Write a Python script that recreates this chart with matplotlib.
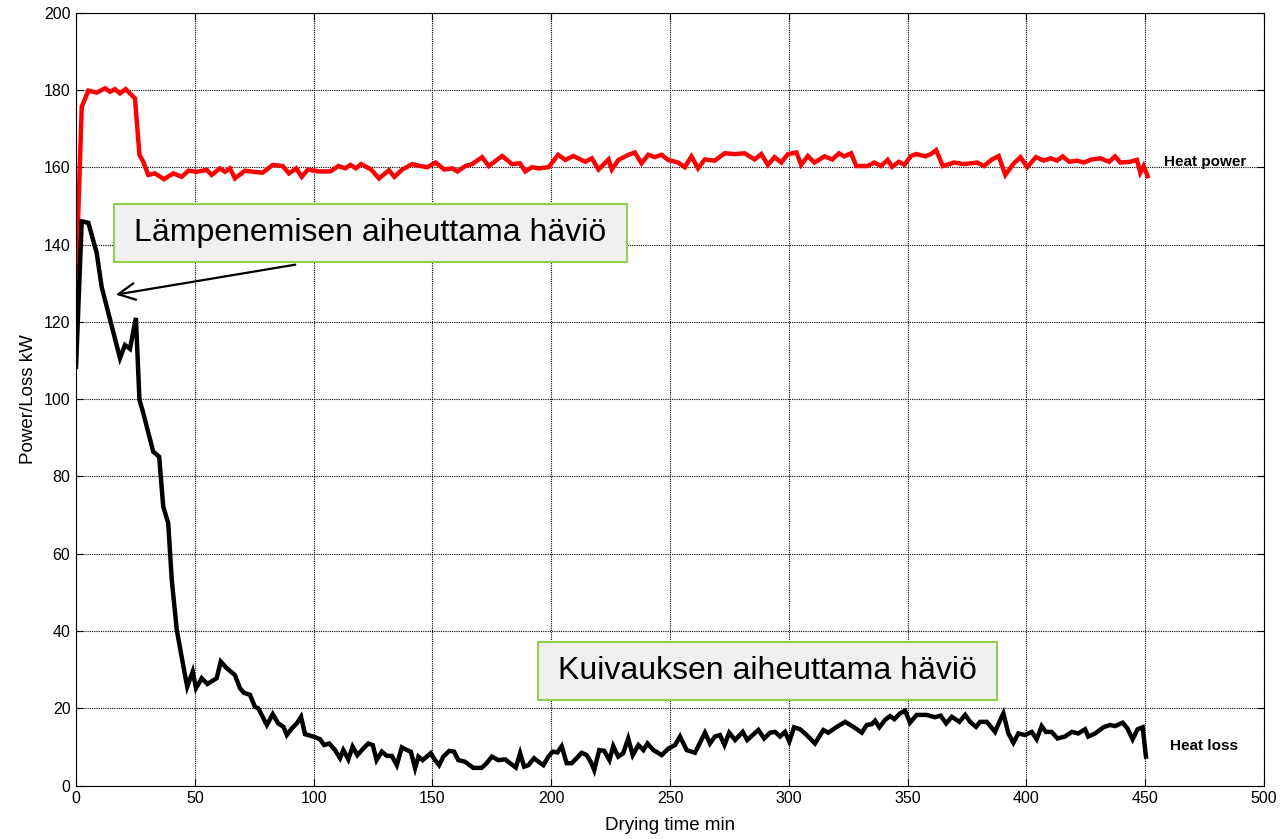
import matplotlib.pyplot as plt
from matplotlib.patches import Rectangle

plt.rcParams['font.family'] = ['Liberation Sans', 'DejaVu Sans']

# Heat power (red), minutes and kW
power_t = [0, 2.4, 5.2, 8.7, 12.2, 14.3, 16.4, 18.5, 20.9, 24.8, 26.7, 28.3, 30.4, 33.2,
           37, 41, 44.5, 47.3, 50.8, 55, 57.1, 60.6, 62.7, 64.8, 66.9, 71.1, 74.6, 78.6,
           82.8, 87, 89.6, 92.7, 95, 97.6, 102, 107, 110.5, 113.3, 115.5, 117.8, 120,
           124.2, 127.5, 131.7, 134, 137.3, 141.5, 144.9, 147.9, 151.3, 155, 158.3, 160.5,
           163.9, 166.7, 170.9, 173.7, 179.3, 183.5, 186.8, 189.1, 191.9, 194.7, 198.9,
           202.9, 205.9, 209.3, 214.3, 217.1, 219.9, 224.1, 225.5, 228.3, 232.5, 235.2,
           238, 240.8, 243.6, 246.4, 249.2, 253.4, 256.2, 259, 261.8, 264.6, 268.8, 273,
           277.2, 281.4, 285.6, 288.4, 291.2, 294, 296.8, 299.6, 303.2, 305.2, 308, 310.8,
           315, 318.3, 321.1, 323.4, 326.2, 328.4, 333.1, 336, 338.8, 341.6, 343.5, 346.3,
           348.6, 351.4, 353.6, 357.5, 359.8, 362, 364.8, 369.6, 373.7, 379.3, 382.1,
           385.5, 388.3, 391.1, 394.7, 397.5, 400.3, 404, 407.3, 410.1, 412.9, 415.2, 418,
           421.3, 424.1, 427.5, 431.1, 434.8, 437.3, 439.5, 443.7, 446.5, 447.9, 449.3, 451]
power_kw = [130, 175.6, 179.8, 179.3, 180.4, 179.5, 180.2, 179.1, 180.2, 177.8, 163.2, 161.4,
            158, 158.4, 156.9, 158.4, 157.5, 159.1, 158.8, 159.3, 158, 159.7, 158.8, 159.7,
            157.1, 159.1, 158.8, 158.6, 160.6, 160.3, 158.4, 159.7, 157.5, 159.4, 158.9,
            158.9, 160.3, 159.7, 160.6, 159.7, 160.8, 159.4, 157.1, 159.2, 157.5, 159.4,
            160.8, 160.3, 160, 161.2, 159.4, 159.7, 158.9, 160.3, 160.8, 162.6, 160.3, 162.9,
            160.8, 161, 158.9, 160, 159.7, 160, 163.2, 161.9, 162.9, 161.4, 162.3, 159.4, 162,
            159.4, 161.9, 163.2, 163.8, 161, 163.2, 162.6, 163.2, 161.9, 161.2, 160, 162.8,
            159.7, 162, 161.7, 163.6, 163.4, 163.6, 162, 163.4, 160.6, 162.6, 161.2, 163.4,
            163.8, 160.6, 162.9, 161.2, 162.8, 162, 163.6, 162.8, 163.6, 160.3, 160.3, 161.2,
            160.3, 161.9, 160.1, 161.4, 160.6, 162.9, 163.4, 162.8, 163.4, 164.4, 160.3,
            161.2, 160.8, 161.2, 160.3, 162, 162.9, 158, 161, 162.6, 160, 162.6, 161.7, 162.3,
            161.7, 162.8, 161.4, 161.7, 161.2, 162, 162.3, 161.4, 162.8, 161.2, 161.4, 161.9,
            158.6, 160.3, 157.7]

# Heat loss (black)
loss_t = [0, 2.4, 5.2, 8.7, 10.8, 18.5, 20.6, 22.7, 25.2, 26.7, 28.3, 32.5, 35, 36.7, 38.8,
          40.3, 42.4, 45.2, 46.8, 49.1, 50.5, 52.9, 55.3, 59.2, 60.9, 63.4, 66.9, 69, 70.7,
          73.2, 75.3, 76.7, 80.3, 82.8, 85.1, 87.3, 88.7, 90.8, 92.9, 94.7, 96.4, 99.9, 102.7,
          104.4, 106.6, 109, 111.1, 112.5, 114.6, 116.4, 118.4, 120.9, 123, 124.9, 126.5,
          128.7, 130.8, 132.9, 135, 137.1, 139.2, 140.9, 142.7, 144.1, 145.9, 147.6, 149.3,
          151.1, 152.8, 154.6, 157.1, 159.1, 160.9, 163.7, 167.2, 170.7, 172.8, 175, 177.7,
          180.6, 182.7, 185.1, 186.9, 188.6, 190.4, 192.8, 194.6, 196.7, 198.8, 200.6, 202.6,
          204.4, 206.5, 208.6, 210.7, 212.8, 214.9, 216.6, 218.1, 220.2, 222.3, 224.5, 226.1,
          228.2, 230.3, 232.4, 234.3, 236.7, 238.8, 240.5, 243, 246.5, 249.3, 252.1, 254.2,
          257, 260.5, 264.7, 266.8, 268.9, 271, 272.9, 274.9, 277.4, 280.6, 282.5, 284.8,
          287.2, 289.6, 292.1, 294.2, 296.3, 298.4, 300.2, 302.2, 304.7, 307.5, 311, 314.5,
          316.6, 320.2, 323.7, 327.2, 330.7, 332.8, 334.9, 336.3, 338.1, 340.5, 342.6, 344.4,
          346.8, 348.9, 351, 353.8, 358, 361.5, 363.9, 366.2, 368.6, 371.8, 374.2, 376.3,
          378.8, 380.5, 383.3, 386.8, 388.6, 390.3, 392.4, 394.5, 396.6, 399.4, 402.2, 404.3,
          406.4, 408.2, 410.6, 413.1, 416.2, 419.1, 421.8, 424.7, 426, 428.9, 432.4, 435.2,
          437.3, 440.5, 442.5, 444.7, 446.8, 448.9, 450.3]
loss_kw = [108.4, 146, 145.6, 137.8, 129, 110.6, 114, 113, 121, 99.8, 96.4, 86.4, 85.1, 72.2,
           67.9, 53.2, 40.3, 30.8, 25.6, 29.5, 25.2, 27.8, 26.3, 27.8, 32.1, 30.4, 28.6, 25.2,
           24, 23.5, 20.4, 20, 15.7, 18.5, 16.1, 15.2, 13.1, 14.8, 16.1, 17.8, 13.3, 12.7, 12,
           10.5, 10.9, 9.2, 7.1, 9.2, 6.8, 10.1, 7.9, 9.6, 10.9, 10.5, 6.6, 8.8, 7.7, 7.7, 5.3,
           9.9, 9.2, 8.8, 4.5, 7.5, 6.6, 7.5, 8.4, 6.6, 5.3, 7.5, 9, 8.8, 6.6, 6.2, 4.6, 4.6,
           5.8, 7.5, 6.6, 6.8, 5.8, 4.7, 8.4, 4.9, 5.3, 7.1, 6.2, 5.3, 7.5, 8.8, 8.6, 10.2, 5.8,
           5.8, 7.1, 8.5, 7.9, 6.2, 4, 9.2, 9, 6.6, 10.2, 7.5, 8.4, 12.2, 7.9, 10.5, 9.2, 10.9,
           9.2, 7.9, 9.6, 10.5, 12.7, 9.2, 8.5, 13.7, 10.9, 12.7, 13.1, 10.5, 13.7, 11.8, 13.9,
           11.8, 13.1, 14.4, 12.2, 13.7, 13.9, 12.7, 13.9, 11.4, 15.1, 14.6, 13.1, 10.9, 14.4,
           13.7, 15.2, 16.5, 15.2, 13.7, 15.7, 15.9, 16.8, 15.1, 17, 18, 17.2, 18.7, 19.4,
           16.3, 18.3, 18.3, 17.7, 18.1, 16.1, 17.8, 16.5, 18.3, 16.5, 15.2, 16.5, 16.5, 13.9,
           16.5, 18.7, 13.5, 11.1, 13.5, 13.1, 13.9, 12, 15.4, 13.9, 13.9, 12.2, 12.7, 13.9,
           13.5, 14.6, 12.7, 13.5, 15.1, 15.7, 15.4, 16.3, 14.8, 12, 14.6, 15.1, 7.5]

fig = plt.figure(figsize=(12.82, 8.39), dpi=100)
ax = fig.add_axes([0.0593, 0.0636, 0.9267, 0.9214])

ax.plot(power_t, power_kw, color='red', linewidth=3.2, solid_joinstyle='miter')
ax.plot(loss_t, loss_kw, color='black', linewidth=3.2, solid_joinstyle='miter')

ax.set_xlim(0, 500)
ax.set_ylim(0, 200)
ax.set_xticks(range(0, 501, 50))
ax.set_yticks(range(0, 201, 20))
ax.tick_params(direction='in', top=True, right=True, labelsize=11.5, length=5, pad=4)
ax.grid(True, color='black', linestyle=(0, (1, 1)), linewidth=0.8)
for s in ax.spines.values():
    s.set_linewidth(0.8)

ax.set_xlabel('Drying time min', fontsize=13.5, labelpad=8)
ax.set_ylabel('Power/Loss kW', fontsize=13.5, labelpad=5)

# series names at the line ends
ax.text(458, 161.3, 'Heat power', fontsize=11, fontweight='bold', va='center', ha='left')
ax.text(460.5, 10.2, 'Heat loss', fontsize=11, fontweight='bold', va='center', ha='left')

# callout boxes
boxes = [((16, 135.5), 215.8, 15.0, 'Lämpenemisen aiheuttama häviö'),
         ((194.4, 22.1), 193.2, 15.1, 'Kuivauksen aiheuttama häviö')]
for (x0, y0), w, h, label in boxes:
    ax.add_patch(Rectangle((x0, y0), w, h, facecolor='#f0f0f0', edgecolor='#92d050',
                           linewidth=1.5, zorder=4))
    ax.text(x0 + w / 2, y0 + h / 2, label, fontsize=23, ha='center', va='center',
            zorder=5)

ax.annotate('', xy=(15.6, 126.9), xytext=(93.4, 134.9),
            arrowprops=dict(arrowstyle='->', color='black', lw=1.6,
                            mutation_scale=30), zorder=5)

fig.savefig('out.png', dpi=100)
